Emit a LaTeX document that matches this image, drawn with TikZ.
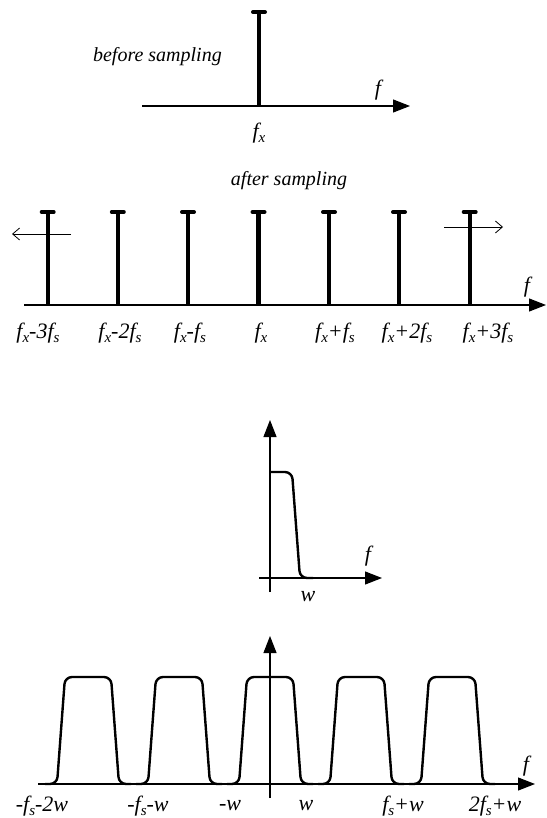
\documentclass[tikz,border=0pt]{standalone}
\usepackage{fontspec}
\setmainfont{Liberation Serif}
\usetikzlibrary{arrows.meta}
\newcommand{\lowsub}[1]{\raisebox{-4.5pt}{\fontsize{15}{15}\selectfont #1}}
\begin{document}
\begin{tikzpicture}[x=1pt,y=-1pt,
  axis/.style={line width=1.1pt,-{Triangle[length=17pt,width=13pt]}},
  thinarrow/.style={line width=0.8pt,-{Straight Barb[length=7pt,width=12pt]}},
  spike/.style={line width=4.2pt},
  spikecap/.style={line width=4pt,line cap=round},
  curve/.style={line width=2.4pt,rounded corners=7pt,line join=round},
  lbl/.style={font=\itshape\fontsize{22}{22}\selectfont,inner sep=0pt},
  txt/.style={font=\itshape\fontsize{20}{20}\selectfont,inner sep=0pt}]
\useasboundingbox (0,0) rectangle (546,818);
% ---------- before sampling ----------
\coordinate (a1s) at (142,106);
\coordinate (a1e) at (410,106);
\draw[axis] (a1s) -- (a1e);
\coordinate (s0b) at (259,106);
\coordinate (s0t) at (259,12);
\draw[spike] (s0b) -- (s0t);
\draw[spikecap] ([xshift=-6pt]s0t) -- ([xshift=6pt]s0t);
\node[lbl] (f1) at (378,90) {f};
\node[lbl] (fx0) at (259,133) {f\lowsub{x}};
\node[txt,anchor=east] (before) at (222,57) {before sampling};
\node[txt] (after) at (289,181) {after sampling};
% ---------- after sampling ----------
\coordinate (a2s) at (24,305);
\coordinate (a2e) at (546,305);
\draw[axis] (a2s) -- (a2e);
\foreach \i/\x in {1/47.7,2/117.8,3/188,4/258.5,5/329,6/399,7/469.7}{
  \coordinate (sb\i) at (\x,305);
  \coordinate (st\i) at (\x,212);
  \draw[spike] (sb\i) -- (st\i);
  \draw[spikecap] ([xshift=-6pt]st\i) -- ([xshift=6pt]st\i);
}
\coordinate (la1) at (71,234);
\coordinate (la2) at (12,234);
\draw[thinarrow] (la1) -- (la2);
\coordinate (ra1) at (444,227);
\coordinate (ra2) at (503,227);
\draw[thinarrow] (ra1) -- (ra2);
\node[lbl] (f2) at (527,287) {f};
\node[lbl] (l1) at (38,333) {f\lowsub{x}-3f\lowsub{s}};
\node[lbl] (l2) at (120,333) {f\lowsub{x}-2f\lowsub{s}};
\node[lbl] (l3) at (190,333) {f\lowsub{x}-f\lowsub{s}};
\node[lbl] (l4) at (261,333) {f\lowsub{x}};
\node[lbl] (l5) at (335,333) {f\lowsub{x}+f\lowsub{s}};
\node[lbl] (l6) at (407,333) {f\lowsub{x}+2f\lowsub{s}};
\node[lbl] (l7) at (488,333) {f\lowsub{x}+3f\lowsub{s}};
% ---------- baseband spectrum ----------
\coordinate (h3s) at (259,578);
\coordinate (h3e) at (382,578);
\draw[axis] (h3s) -- (h3e);
\coordinate (v3s) at (270,592);
\coordinate (v3e) at (270,420);
\draw[axis] (v3s) -- (v3e);
\draw[curve] (270,472) -- (292,472) -- (300,578) -- (313,578);
\node[lbl] (f3) at (368,556) {f};
\node[lbl] (w3) at (308,597) {w};
% ---------- sampled spectrum ----------
\coordinate (h4s) at (38,784);
\coordinate (h4e) at (535,784);
\draw[axis] (h4s) -- (h4e);
\coordinate (v4s) at (270,798);
\coordinate (v4e) at (270,636);
\draw[axis] (v4s) -- (v4e);
\foreach \c in {88,179,270,361,452}{
  \draw[curve] (\c-43,784) -- (\c-31,784) -- (\c-23,677) -- (\c+23,677) -- (\c+31,784) -- (\c+43,784);
}
\node[lbl] (f4) at (526,766) {f};
\node[lbl] (b1) at (42,806) {-f\lowsub{s}-2w};
\node[lbl] (b2) at (148,806) {-f\lowsub{s}-w};
\node[lbl] (b3) at (230,806) {-w};
\node[lbl] (b4) at (306,806) {w};
\node[lbl] (b5) at (403,806) {f\lowsub{s}+w};
\node[lbl] (b6) at (495,806) {2f\lowsub{s}+w};
\end{tikzpicture}
\end{document}
